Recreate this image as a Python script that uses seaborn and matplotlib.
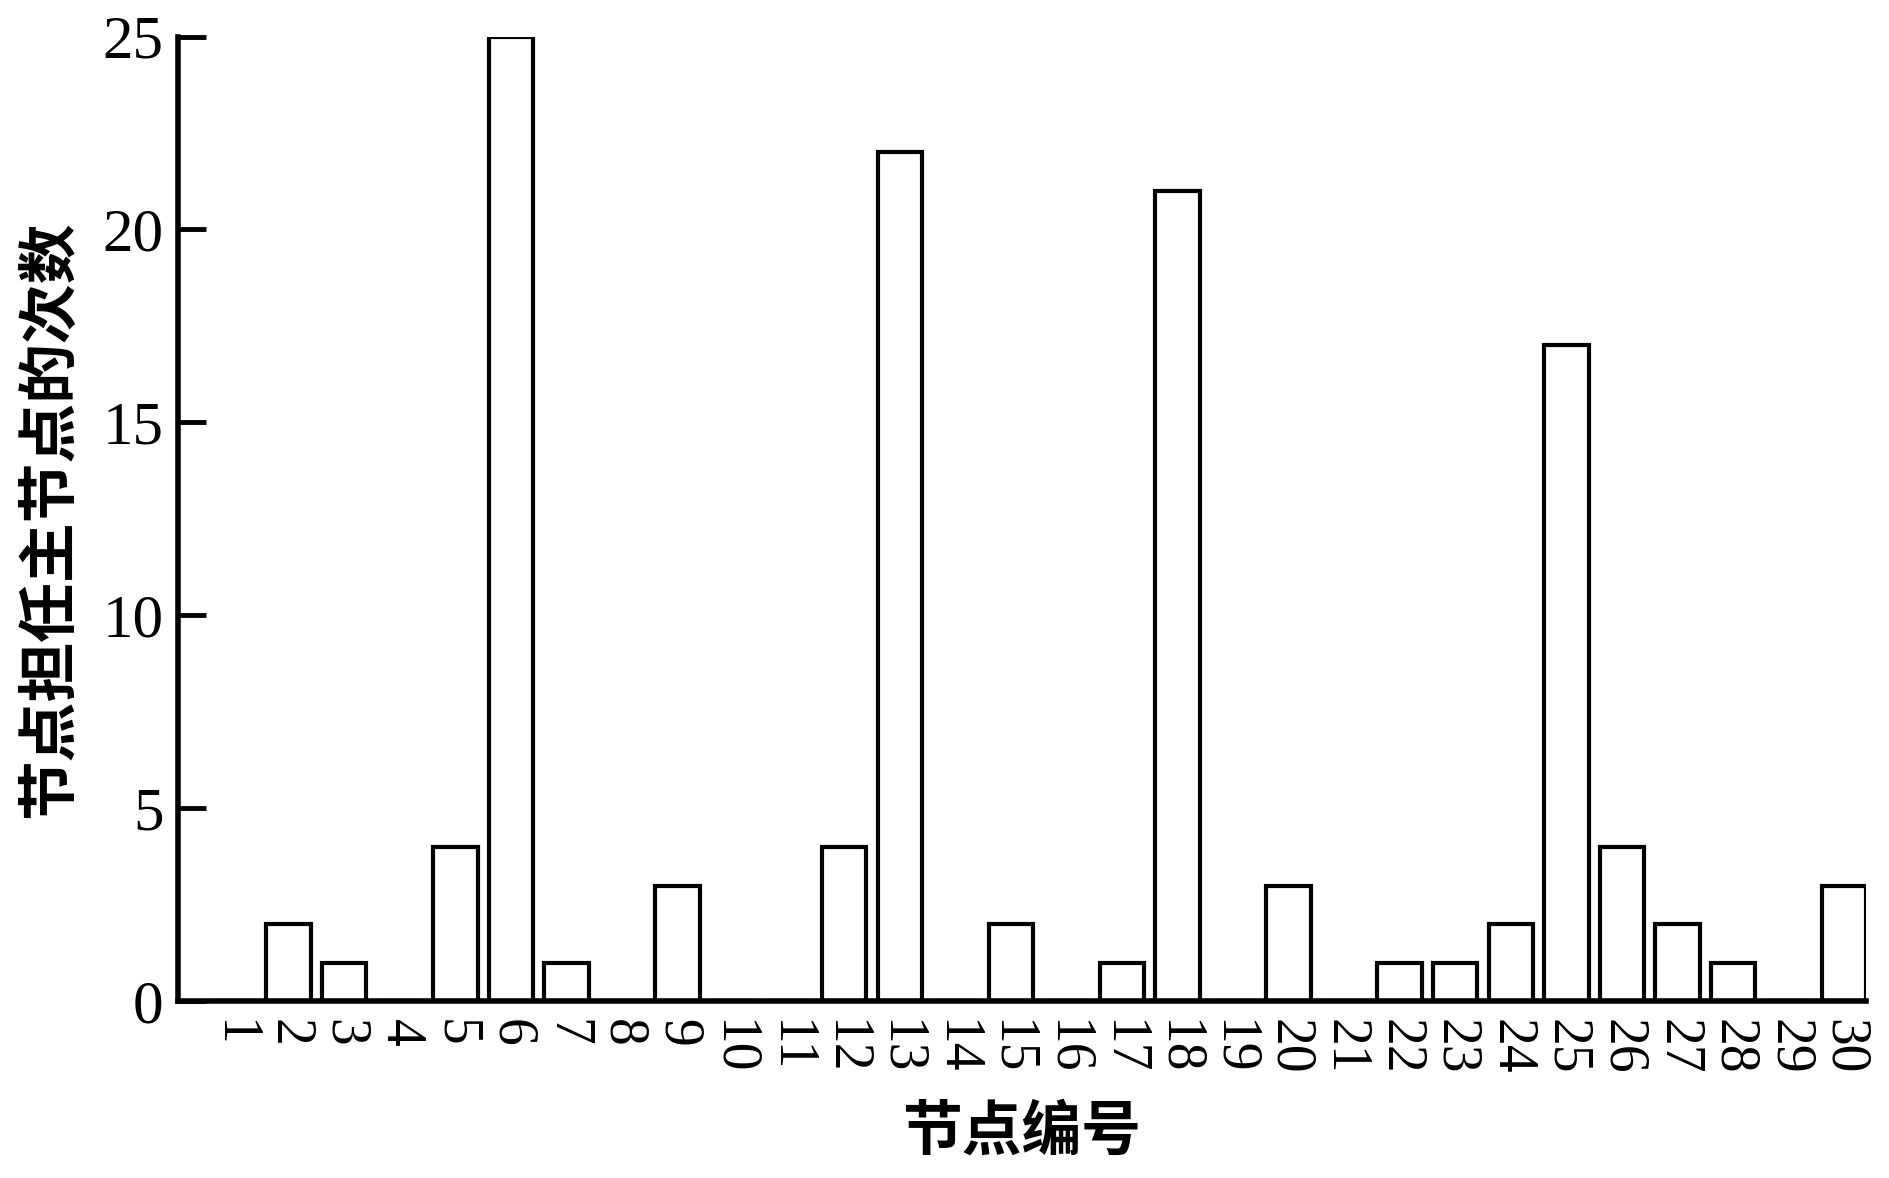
import pandas as pd
import matplotlib
matplotlib.use("Agg")
import matplotlib.pyplot as plt
import seaborn as sns

# node ids and how many times each served as the master node
node_ids = list(range(1, 31))
master_counts = [0, 2, 1, 0, 4, 25, 1, 0, 3, 0,
                 0, 4, 22, 0, 2, 0, 1, 21, 0, 3,
                 0, 1, 1, 2, 17, 4, 2, 1, 0, 3]
y_ticks = [0, 5, 10, 15, 20, 25]
x_label = "节点编号"
y_label = "节点担任主节点的次数"

sns.set_theme(style="ticks")
plt.rcParams['font.family'] = ['Liberation Serif', 'Noto Sans CJK SC']
for key in ["text.color", "axes.labelcolor", "xtick.color", "ytick.color"]:
    plt.rcParams[key] = "black"

df = pd.DataFrame({"node": [str(n) for n in node_ids], "count": master_counts})

fig = plt.figure(figsize=(18.89, 11.78), dpi=100)
ax = fig.add_axes([0.094, 0.150, 0.894, 0.819])
sns.barplot(data=df, x="node", y="count", color="white", saturation=1,
            edgecolor="black", linewidth=3, width=0.8, ax=ax)

ax.set_xlim(-1, 29.4)
ax.set_ylim(0, 25)
ax.set_yticks(y_ticks)
ax.tick_params(axis="y", direction="in", length=20, width=3.5, labelsize=44, pad=10)
ax.tick_params(axis="x", length=0, labelsize=40, labelrotation=-90, pad=13)
for lab in ax.get_xticklabels():
    lab.set_verticalalignment("top")
for side in ["top", "right"]:
    ax.spines[side].set_visible(False)
for side in ["left", "bottom"]:
    ax.spines[side].set_linewidth(4)
    ax.spines[side].set_color("black")

ax.set_xlabel(x_label, fontsize=43, family=['Noto Sans CJK SC'], fontweight='bold', labelpad=20)
ax.set_ylabel(y_label, fontsize=43, family=['Noto Sans CJK SC'], fontweight='bold', labelpad=16)

fig.savefig("out.png", dpi=100)
